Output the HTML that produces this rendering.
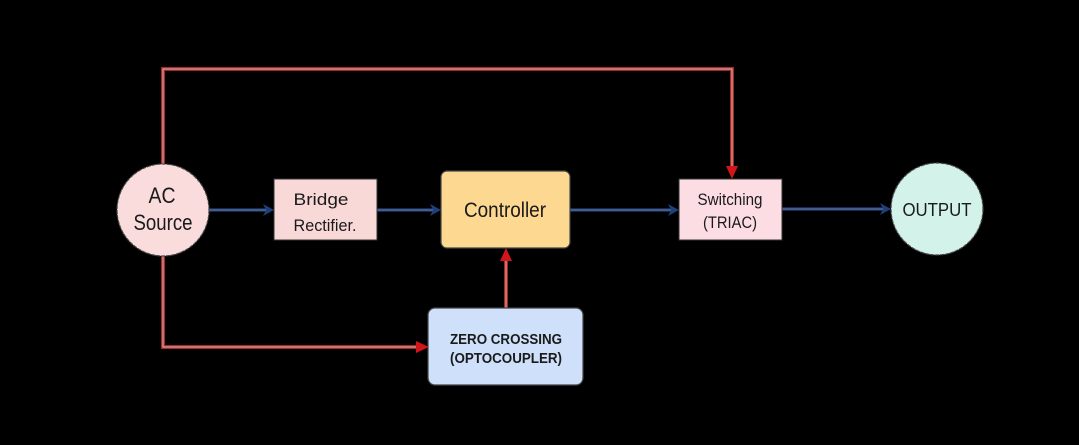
<!DOCTYPE html>
<html><head><meta charset="utf-8"><style>
html,body{margin:0;padding:0;background:#000;}
svg{display:block;}
text{font-family:"Liberation Sans",Arial,sans-serif;fill:#1a1a1a;}
</style></head><body>
<svg width="1079" height="445" viewBox="0 0 1079 445" xmlns="http://www.w3.org/2000/svg">
<rect width="1079" height="445" fill="#000"/>
<!-- red connectors -->
<g fill="none" stroke-linejoin="miter">
  <polyline points="163,164 163,69 732,69 732,170" stroke="#9e2a2a" stroke-width="4"/>
  <polyline points="163,164 163,69 732,69 732,170" stroke="#e3a0a0" stroke-width="1.2"/>
  <polyline points="163,256 163,347 418,347" stroke="#9e2a2a" stroke-width="4"/>
  <polyline points="163,256 163,347 418,347" stroke="#e3a0a0" stroke-width="1.2"/>
  <line x1="506" y1="308" x2="506" y2="259" stroke="#9e2a2a" stroke-width="4"/>
  <line x1="506" y1="308" x2="506" y2="259" stroke="#e3a0a0" stroke-width="1.2"/>
</g>
<g fill="#d0151b">
  <polygon points="726,166 738,166 732,179"/>
  <polygon points="416,341 416,353 429,347"/>
  <polygon points="500,261 512,261 506,248"/>
</g>
<!-- navy connectors -->
<g fill="none">
  <line x1="209" y1="210" x2="266" y2="210" stroke="#1d3566" stroke-width="3.5"/>
  <line x1="209" y1="210" x2="266" y2="210" stroke="#6d84ad" stroke-width="1"/>
  <line x1="377" y1="210" x2="433" y2="210" stroke="#1d3566" stroke-width="3.5"/>
  <line x1="377" y1="210" x2="433" y2="210" stroke="#6d84ad" stroke-width="1"/>
  <line x1="570" y1="210" x2="671" y2="210" stroke="#1d3566" stroke-width="3.5"/>
  <line x1="570" y1="210" x2="671" y2="210" stroke="#6d84ad" stroke-width="1"/>
  <line x1="782" y1="209" x2="883" y2="209" stroke="#1d3566" stroke-width="3.5"/>
  <line x1="782" y1="209" x2="883" y2="209" stroke="#6d84ad" stroke-width="1"/>
</g>
<g fill="#1f3f7a">
  <polygon points="263,204 274,210 263,216 266,210"/>
  <polygon points="430,204 441,210 430,216 433,210"/>
  <polygon points="668,204 679,210 668,216 671,210"/>
  <polygon points="880,203 891,209 880,215 883,209"/>
</g>
<!-- nodes -->
<circle cx="163" cy="210" r="46" fill="#fbdcdc" stroke="#444" stroke-width="1.2" stroke-dasharray="4 1"/>
<rect x="274" y="179" width="103" height="61" fill="#f9d8d8" stroke="#333" stroke-width="1"/>
<rect x="441" y="171" width="129" height="77" rx="6" fill="#fdd890" stroke="#444" stroke-width="1.2"/>
<rect x="679" y="179" width="103" height="61" fill="#fcdde3" stroke="#333" stroke-width="1"/>
<circle cx="937" cy="209" r="46" fill="#d2f2ea" stroke="#444" stroke-width="1.2" stroke-dasharray="4 1"/>
<rect x="428" y="308" width="155" height="77" rx="7" fill="#cfe0fa" stroke="#444" stroke-width="1.2"/>
<!-- labels -->
<text x="162" y="203" font-size="22" text-anchor="middle" textLength="27" lengthAdjust="spacingAndGlyphs">AC</text>
<text x="163" y="230" font-size="22" text-anchor="middle" textLength="59" lengthAdjust="spacingAndGlyphs">Source</text>
<text x="321" y="205" font-size="17" text-anchor="middle" textLength="55" lengthAdjust="spacingAndGlyphs">Bridge</text>
<text x="325" y="231" font-size="17" text-anchor="middle" textLength="63" lengthAdjust="spacingAndGlyphs">Rectifier.</text>
<text x="505" y="217" font-size="21" text-anchor="middle" textLength="82" lengthAdjust="spacingAndGlyphs">Controller</text>
<text x="730" y="205" font-size="17" text-anchor="middle" textLength="65" lengthAdjust="spacingAndGlyphs">Switching</text>
<text x="730" y="228" font-size="17" text-anchor="middle" textLength="54" lengthAdjust="spacingAndGlyphs">(TRIAC)</text>
<text x="937" y="216" font-size="18" text-anchor="middle" textLength="69" lengthAdjust="spacingAndGlyphs">OUTPUT</text>
<text x="506" y="344" font-size="14.5" font-weight="bold" text-anchor="middle" textLength="112" lengthAdjust="spacingAndGlyphs">ZERO CROSSING</text>
<text x="506" y="363" font-size="14.5" font-weight="bold" text-anchor="middle" textLength="112" lengthAdjust="spacingAndGlyphs">(OPTOCOUPLER)</text>
</svg>
</body></html>
